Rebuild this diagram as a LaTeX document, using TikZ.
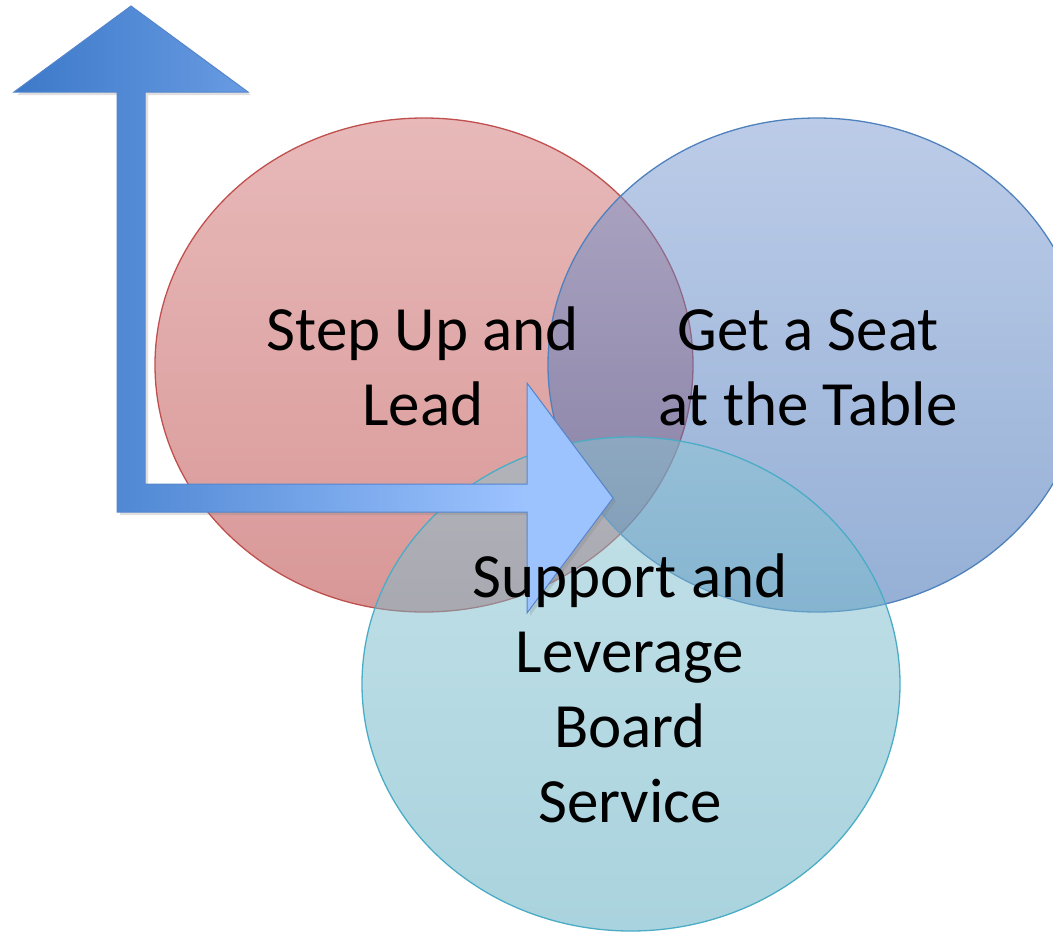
\documentclass[tikz,border=0pt]{standalone}
\usepackage{fontspec}
\setmainfont{Carlito}
\usetikzlibrary{shapes.geometric,shadows}
\definecolor{redtop}{HTML}{D17373}
\definecolor{redbot}{HTML}{B33030}
\definecolor{redline}{HTML}{C0504D}
\definecolor{bluetop}{HTML}{7999D1}
\definecolor{bluebot}{HTML}{2B60AD}
\definecolor{blueline}{HTML}{4F81BD}
\definecolor{tealtop}{HTML}{8BC5D3}
\definecolor{tealbot}{HTML}{53A7BD}
\definecolor{tealline}{HTML}{4BACC6}
\definecolor{arrowline}{HTML}{5585CC}
\pgfdeclarehorizontalshading{arrowshade}{100bp}{rgb(0bp)=(0.235,0.475,0.788); rgb(25bp)=(0.235,0.475,0.788); rgb(67.8bp)=(0.616,0.765,1); rgb(100bp)=(0.616,0.765,1)}
\tikzset{
  venn/.style={ellipse, minimum width=538pt, minimum height=494pt, inner sep=0pt, fill opacity=0.5, line width=1.3pt},
  redc/.style={venn, draw=redline, top color=redtop, bottom color=redbot},
  bluec/.style={venn, draw=blueline, top color=bluetop, bottom color=bluebot},
  tealc/.style={venn, draw=tealline, top color=tealtop, bottom color=tealbot},
  lbl/.style={align=center, inner sep=0pt, anchor=base, font=\fontsize{63}{75}\selectfont, text=black},
  bentarrow/.style={shading=arrowshade, draw=arrowline, line width=1pt, line join=miter,
    drop shadow={opacity=0.25, shadow xshift=3pt, shadow yshift=-3pt}}
}
\begin{document}
\begin{tikzpicture}[x=1pt,y=-1pt]
\useasboundingbox (0,0) rectangle (1053,932);
\clip (0,0) rectangle (1053,932);
\node[redc] (red) at (424,365) {};
\node[bluec] (blue) at (817,365) {};
\node[tealc] (teal) at (631,684) {};
\coordinate (a1) at (117,512);
\coordinate (a2) at (117,92);
\coordinate (a3) at (14,92);
\coordinate (a4) at (131,6);
\coordinate (a5) at (248,92);
\coordinate (a6) at (145,92);
\coordinate (a7) at (145,484);
\coordinate (a8) at (527,484);
\coordinate (a9) at (527,383);
\coordinate (a10) at (613,498);
\coordinate (a11) at (527,613);
\coordinate (a12) at (527,512);
\path[bentarrow] (a1) -- (a2) -- (a3) -- (a4) -- (a5) -- (a6) -- (a7) -- (a8) -- (a9) -- (a10) -- (a11) -- (a12) -- cycle;
\node[lbl] (redtext) at (423,425) {Step Up and\\Lead};
\node[lbl] (bluetext) at (808,425) {Get a Seat\\at the Table};
\node[lbl] (tealtext) at (630,822) {Support and\\Leverage\\Board\\Service};
\end{tikzpicture}
\end{document}
